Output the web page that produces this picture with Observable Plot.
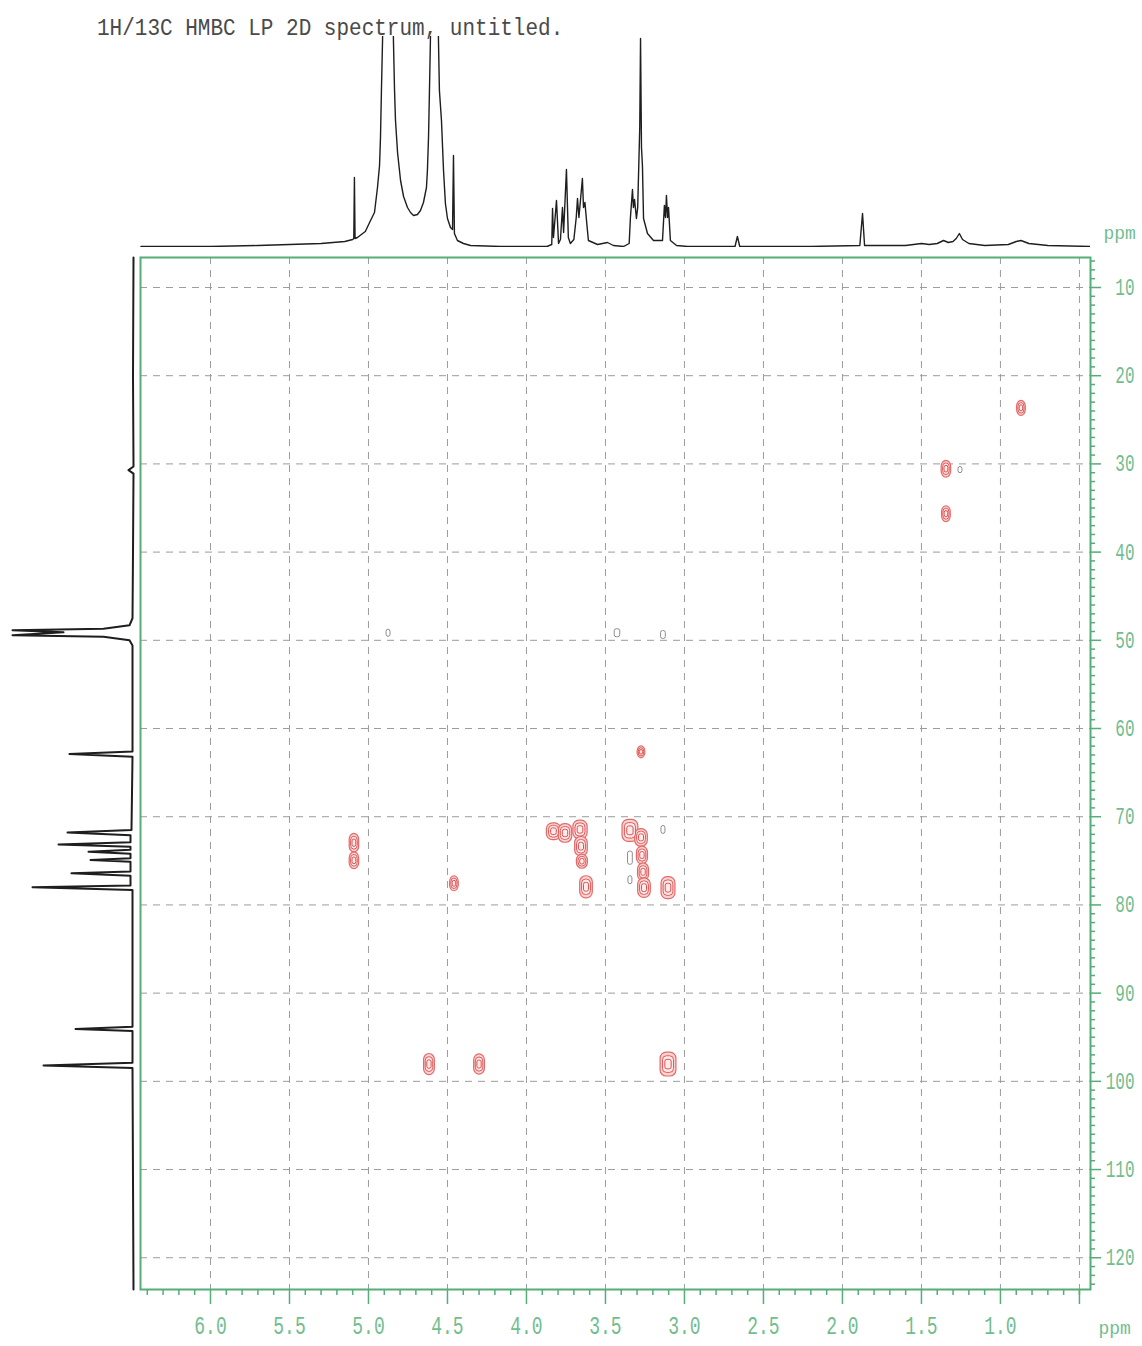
<!DOCTYPE html>
<html>
<head>
<meta charset="utf-8">
<script src="https://cdn.jsdelivr.net/npm/d3@7"></script>
<script src="https://cdn.jsdelivr.net/npm/@observablehq/plot@0.6"></script>
<style>
  html, body { margin: 0; padding: 0; background: white; }
  #wrap { position: relative; width: 1142px; height: 1346px; background: white; overflow: hidden; }
  #wrap > svg { position: absolute; left: 0; top: 0; }
  #title { position: absolute; left: 97px; top: 17px; font-family: "Liberation Mono", monospace; font-size: 21px; color: #4a4a4a; white-space: pre; line-height: 1; z-index: 5; transform: scaleY(1.15); transform-origin: left top; }
</style>
</head>
<body>
<div id="wrap"><div id="title"></div></div>
<script>
// ---------- DATA ----------
const chartTitle = "1H/13C HMBC LP 2D spectrum, untitled.";

// axis domains (ppm)
const xDomain = [6.443, 0.43];   // 1H, reversed
const yDomain = [6.6, 123.6];    // 13C, increasing downward

// tick values
const xMajorTicks = [6.0, 5.5, 5.0, 4.5, 4.0, 3.5, 3.0, 2.5, 2.0, 1.5, 1.0, 0.5];
const xMinorTicks = [6.4,6.3,6.2,6.1,5.9,5.8,5.7,5.6,5.4,5.3,5.2,5.1,4.9,4.8,4.7,4.6,4.4,4.3,4.2,4.1,3.9,3.8,3.7,3.6,3.4,3.3,3.2,3.1,2.9,2.8,2.7,2.6,2.4,2.3,2.2,2.1,1.9,1.8,1.7,1.6,1.4,1.3,1.2,1.1,0.9,0.8,0.7,0.6,0.5];
const yMajorTicks = [10, 20, 30, 40, 50, 60, 70, 80, 90, 100, 110, 120];
const yMinorTicks = [7,8,9,11,12,13,14,15,16,17,18,19,21,22,23,24,25,26,27,28,29,31,32,33,34,35,36,37,38,39,41,42,43,44,45,46,47,48,49,51,52,53,54,55,56,57,58,59,61,62,63,64,65,66,67,68,69,71,72,73,74,75,76,77,78,79,81,82,83,84,85,86,87,88,89,91,92,93,94,95,96,97,98,99,101,102,103,104,105,106,107,108,109,111,112,113,114,115,116,117,118,119,121,122,123];

// 1H projection (top trace): ppm and intensity
const hPpm = [6.44,6.0,5.7,5.5,5.3,5.15,5.10,5.093,5.089,5.085,5.07,5.02,4.987,4.962,4.943,4.930,4.924,4.918,4.911,4.877,4.842,4.835,4.829,4.816,4.797,4.778,4.753,4.734,4.715,4.690,4.671,4.652,4.633,4.627,4.620,4.614,4.608,4.583,4.557,4.551,4.538,4.525,4.513,4.500,4.481,4.468,4.462,4.456,4.437,4.399,4.354,4.165,3.95,
  3.87,3.84,3.835,3.829,3.810,3.797,3.785,3.772,3.765,3.747,3.735,3.722,3.70,3.685,3.677,3.668,3.646,3.639,3.630,3.620,3.608,3.55,3.487,3.45,3.386,3.35,3.342,3.329,3.323,3.316,3.304,3.296,3.283,3.278,3.272,3.266,3.259,3.234,3.196,3.139,3.127,3.120,3.114,3.107,3.101,3.089,3.05,2.98,
  2.68,2.665,2.65,2.2,1.89,1.873,1.86,1.6,1.5,1.45,1.40,1.36,1.33,1.30,1.28,1.26,1.24,1.20,1.10,0.95,0.90,0.87,0.82,0.70,0.43];
const hInt = [1,1,2,3,4,6,8,9,70,9,10,16,27,35,60,82,110,157,207,600,207,157,127,95,67,51,40,35,32,33,37,45,60,77,110,157,207,600,207,157,127,77,44,29,20,18,92,14,7,4,2,1,1,
  1,3,39,10,47,4,8,40,15,78,10,4,8,30,49,30,69,40,45,27,7,3,5,2,1,4,30,58,40,48,29,40,120,209,100,82,29,14,7,7,42,30,52,30,40,7,2,1,
  1,11,1,1,2,34,2,2,4,3,4,7,5,6,9,14,8,4,2,3,6,7,4,2,1];

// 13C projection (left trace): ppm and intensity
const cPpm = [6.6,20,30.3,30.7,31.1,40,47.5,48.3,48.7,48.86,49.1,49.42,49.6,50.0,50.6,62.6,62.9,63.2,71.5,71.78,72.1,72.9,73.14,73.4,73.75,73.97,74.2,74.7,74.91,75.1,76.2,76.42,76.7,77.8,78.0,78.3,93.8,94.06,94.3,97.9,98.2,98.5,123.6];
const cInt = [0,0.5,0,5,0,0.5,1,4,30,121,70,121,30,4,1,1,64,1,2,66,3,3,75,3,3,45,3,3,43,3,3,62,3,3,101,1,1,58,1,1,90,1,0];

// HMBC cross peaks: 1H ppm, 13C ppm, width (1H ppm), height (13C ppm)
const peakH = [0.867,1.342,1.342,3.272,5.089,5.089,4.456,3.826,3.753,3.658,3.652,3.646,3.620,3.342,3.272,3.266,3.259,3.253,3.101,4.614,4.297,3.101];
const peakC = [23.7,30.6,35.7,62.7,73.0,75.0,77.6,71.7,71.9,71.5,73.4,75.1,78.0,71.6,72.4,74.4,76.3,78.1,78.1,98.1,98.1,98.1];
const peakW = [0.055,0.06,0.055,0.05,0.06,0.06,0.055,0.09,0.085,0.09,0.08,0.07,0.08,0.1,0.08,0.07,0.07,0.08,0.088,0.068,0.068,0.1];
const peakD = [1.7,1.9,1.8,1.35,2.1,1.9,1.7,1.9,2.1,2.1,2.2,1.6,2.5,2.5,2.0,2.0,2.0,2.2,2.5,2.4,2.3,2.7];

// weak (grey) contour specks
const speckH = [4.873,3.424,3.133,1.253,3.133,3.342,3.342];
const speckC = [49.2,49.2,49.4,30.7,71.5,74.7,77.2];
const speckW = [0.025,0.035,0.03,0.025,0.025,0.03,0.025];
const speckD = [0.8,0.9,0.9,0.7,0.9,1.5,0.9];

// contour levels (relative size)
const levels = [1, 0.7, 0.4];

// ---------- STYLE ----------
const GREEN = "#55ad78";
const GREEN_TXT = "#72bd8f";
const GRID = "#9c9c9c";
const MONO = "Liberation Mono, monospace";

document.getElementById("title").textContent = chartTitle;

// ---------- TABLES ----------
const topTrace = hPpm.map((p, i) => ({ppm: p, i: hInt[i]}));
const leftTrace = cPpm.map((p, i) => ({ppm: p, i: cInt[i]}));
const peakRects = [];
levels.forEach((s, li) => peakH.forEach((h, k) => peakRects.push({
  level: li,
  x1: h + peakW[k] * s / 2, x2: h - peakW[k] * s / 2,
  y1: peakC[k] - peakD[k] * s / 2, y2: peakC[k] + peakD[k] * s / 2
})));
const speckRects = speckH.map((h, k) => ({
  x1: h + speckW[k] / 2, x2: h - speckW[k] / 2,
  y1: speckC[k] - speckD[k] / 2, y2: speckC[k] + speckD[k] / 2
}));

function stretch(svg, label, s) {
  svg.querySelectorAll(`[aria-label="${label}"] text`).forEach(el => {
    const t = el.getAttribute("transform") || "";
    const x = parseFloat(el.getAttribute("x")) || 0;
    const y = parseFloat(el.getAttribute("y")) || 0;
    el.setAttribute("transform", `${t} translate(${x},${y}) scale(1,${s}) translate(${-x},${-y})`);
  });
}

// ---------- MAIN 2D PLOT ----------
const mainPlot = Plot.plot({
  width: 1142, height: 1346,
  marginLeft: 140, marginRight: 52, marginTop: 257, marginBottom: 57,
  x: {domain: xDomain},
  y: {domain: yDomain, reverse: true},
  style: {background: "transparent", overflow: "visible"},
  marks: [
    Plot.ruleX(xMajorTicks, {x: d => d, stroke: GRID, strokeDasharray: "7,6", strokeWidth: 1}),
    Plot.ruleY(yMajorTicks, {y: d => d, stroke: GRID, strokeDasharray: "7,6", strokeWidth: 1}),
    Plot.rect(speckRects, {x1: "x1", x2: "x2", y1: "y1", y2: "y2", rx: 2, fill: "none", stroke: "#8c8c8c", strokeWidth: 1}),
    Plot.rect(peakRects.filter(d => d.level === 0), {x1: "x1", x2: "x2", y1: "y1", y2: "y2", rx: 6, fill: "#f9d3d3", stroke: "#e46a6a", strokeWidth: 1.2}),
    Plot.rect(peakRects.filter(d => d.level === 1), {x1: "x1", x2: "x2", y1: "y1", y2: "y2", rx: 4, fill: "#fdeaea", stroke: "#e05a5a", strokeWidth: 1}),
    Plot.rect(peakRects.filter(d => d.level === 2), {x1: "x1", x2: "x2", y1: "y1", y2: "y2", rx: 2, fill: "none", stroke: "#dc5050", strokeWidth: 1}),
    Plot.frame({stroke: GREEN, strokeWidth: 2}),
    Plot.axisX(xMinorTicks, {anchor: "bottom", tickSize: 6, tickFormat: () => "", stroke: GREEN, strokeWidth: 1.5, label: null}),
    Plot.axisX(xMajorTicks, {anchor: "bottom", tickSize: 15, tickPadding: 12, tickFormat: d => d < 0.9 ? "" : d.toFixed(1), stroke: GREEN, strokeWidth: 1.5, fill: GREEN_TXT, fontSize: 18, fontFamily: MONO, label: null}),
    Plot.axisY(yMinorTicks, {anchor: "right", tickSize: 4, tickFormat: () => "", stroke: GREEN, strokeWidth: 1.5, label: null}),
    Plot.axisY(yMajorTicks, {anchor: "right", tickSize: 10, tickPadding: 34, textAnchor: "end", stroke: GREEN, strokeWidth: 1.5, fill: GREEN_TXT, fontSize: 16, fontFamily: MONO, label: null}),
    Plot.text(["ppm"], {frameAnchor: "top-right", dx: 13, dy: -24, textAnchor: "start", lineAnchor: "middle", fill: GREEN_TXT, fontSize: 18, fontFamily: MONO}),
    Plot.text(["ppm"], {frameAnchor: "bottom-right", dx: 8, dy: 39, textAnchor: "start", lineAnchor: "middle", fill: GREEN_TXT, fontSize: 18, fontFamily: MONO})
  ]
});
stretch(mainPlot, "x-axis tick label", 1.4);
stretch(mainPlot, "y-axis tick label", 1.5);

// ---------- TOP 1H PROJECTION ----------
const topPlot = Plot.plot({
  width: 1142, height: 257,
  marginLeft: 140, marginRight: 52, marginTop: 36, marginBottom: 10,
  x: {domain: xDomain, axis: null},
  y: {domain: [0, 211], axis: null},
  style: {background: "transparent", overflow: "visible"},
  marks: [
    Plot.line(topTrace, {x: "ppm", y: "i", stroke: "#1e1e1e", strokeWidth: 1.4, clip: true})
  ]
});

// ---------- LEFT 13C PROJECTION ----------
const leftPlot = Plot.plot({
  width: 140, height: 1346,
  marginLeft: 10, marginRight: 7, marginTop: 257, marginBottom: 57,
  x: {domain: [0, 123], reverse: true, axis: null},
  y: {domain: yDomain, reverse: true, axis: null},
  style: {background: "transparent", overflow: "visible"},
  marks: [
    Plot.line(leftTrace, {x: "i", y: "ppm", stroke: "#1e1e1e", strokeWidth: 2})
  ]
});

const wrap = document.getElementById("wrap");
wrap.appendChild(mainPlot);
wrap.appendChild(topPlot);
wrap.appendChild(leftPlot);
</script>
</body>
</html>
